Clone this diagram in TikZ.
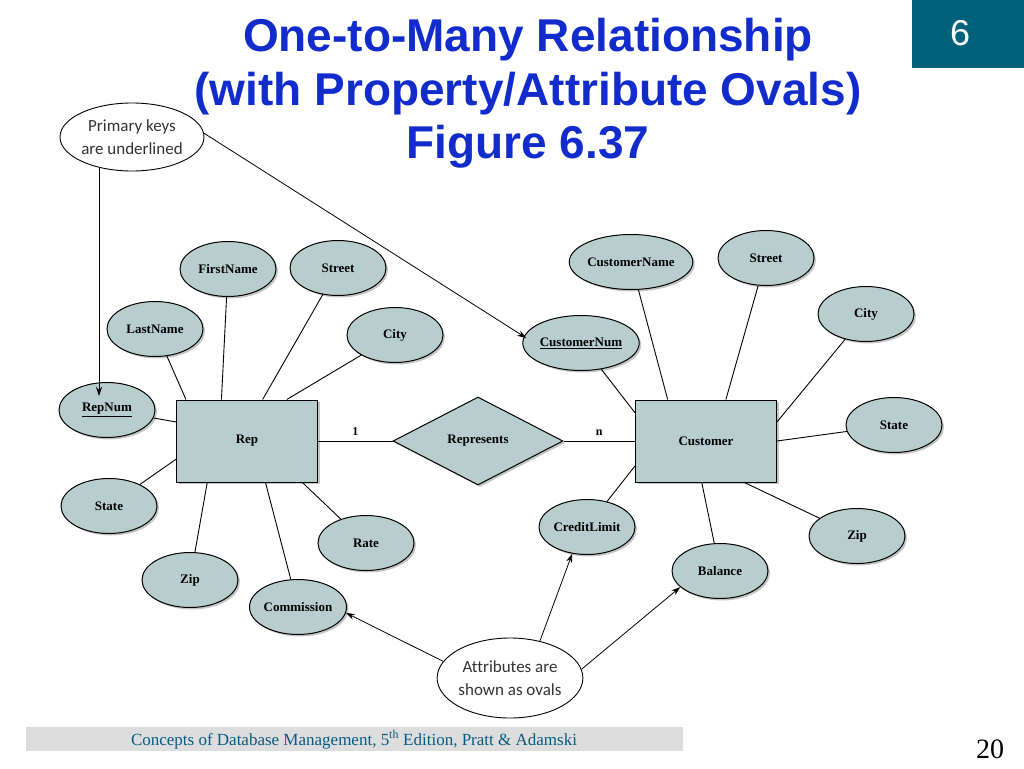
\documentclass[tikz,border=0pt]{standalone}
\usepackage{fontspec}
\setmainfont{Liberation Serif}
\newfontfamily\headfont{Liberation Sans}
\newfontfamily\notefont[Ligatures=NoCommon]{Carlito}
\usetikzlibrary{shapes.geometric,shadows,arrows.meta,calc}
\definecolor{erfill}{RGB}{184,206,206}
\definecolor{titleblue}{RGB}{18,44,204}
\definecolor{slideteal}{RGB}{0,98,122}
\definecolor{footgray}{RGB}{221,221,221}
\definecolor{footblue}{RGB}{10,90,128}

\begin{document}
\begin{tikzpicture}[x=1pt,y=-1pt,
    attr/.style={ellipse,draw,fill=erfill,line width=1pt,minimum width=96pt,minimum height=55pt,inner sep=0pt,
      font=\bfseries\fontsize{13}{15}\selectfont,drop shadow={shadow xshift=2pt,shadow yshift=-2pt,fill=black!45}},
    entity/.style={rectangle,draw,fill=erfill,line width=1pt,minimum width=141pt,minimum height=82pt,
      font=\bfseries\fontsize{13}{15}\selectfont,drop shadow={shadow xshift=2pt,shadow yshift=-2pt,fill=black!45}},
    relation/.style={diamond,draw,fill=erfill,line width=1pt,minimum width=170pt,minimum height=88pt,aspect=1.9,
      inner sep=0pt,font=\bfseries\fontsize{13}{15}\selectfont,drop shadow={shadow xshift=2pt,shadow yshift=-2pt,fill=black!45}},
    note/.style={ellipse,draw,fill=white,line width=0.9pt,inner sep=0pt,align=center,text=black!80,
      font=\notefont\fontsize{17}{23}\selectfont},
    link/.style={line width=0.9pt},
    pointer/.style={line width=0.8pt,-{Stealth[length=9pt,width=6pt]}}]
    \useasboundingbox (0,0) rectangle (1024,768);

    % slide header
    \fill[slideteal] (912,0) rectangle (1024,68);
    \node[text=white,font=\headfont\fontsize{36}{40}\selectfont] (slideno) at (960,33) {6};
    \node[anchor=base,text=titleblue,font=\headfont\bfseries\fontsize{46}{53}\selectfont] (title1) at (528,52) {One-to-Many Relationship};
    \node[anchor=base,text=titleblue,font=\headfont\bfseries\fontsize{46}{53}\selectfont] (title2) at (528,105) {(with Property/Attribute Ovals)};
    \node[anchor=base,text=titleblue,font=\headfont\bfseries\fontsize{46}{53}\selectfont] (title3) at (528,158) {Figure 6.37};

    % entities and relationship
    \node[entity] (rep) at (247,441) {Rep};
    \node[relation] (represents) at (478,441) {Represents};
    \node[entity] (customer) at (706,441) {Customer};
    \draw[link] (rep) -- node[midway,above=2pt,font=\bfseries\fontsize{12}{14}\selectfont] (one) {1} (represents);
    \draw[link] (represents) -- node[midway,above=2pt,font=\bfseries\fontsize{12}{14}\selectfont] (many) {n} (customer);

    % Rep attributes
    \node[attr] (r-first) at (228,269) {FirstName};
    \node[attr] (r-street) at (338,268) {Street};
    \node[attr] (r-last) at (155,329) {LastName};
    \node[attr] (r-city) at (395,335) {City};
    \node[attr] (repnum) at (107,410) {\underline{RepNum}};
    \node[attr] (r-state) at (109,506) {State};
    \node[attr] (r-zip) at (190,580) {Zip};
    \node[attr] (commission) at (298,607) {Commission};
    \node[attr] (r-rate) at (366,543) {Rate};
    \draw[link] (r-first) -- ($(rep.north west)!0.32!(rep.north east)$);
    \draw[link] (r-street) -- ($(rep.north west)!0.61!(rep.north east)$);
    \draw[link] (r-city) -- ($(rep.north west)!0.78!(rep.north east)$);
    \draw[link] (r-last) -- ($(rep.north west)!0.07!(rep.north east)$);
    \draw[link] (repnum) -- ($(rep.north west)!0.27!(rep.south west)$);
    \draw[link] (r-state) -- ($(rep.north west)!0.72!(rep.south west)$);
    \draw[link] (r-zip) -- ($(rep.south west)!0.22!(rep.south east)$);
    \draw[link] (commission) -- ($(rep.south west)!0.63!(rep.south east)$);
    \draw[link] (r-rate) -- ($(rep.south west)!0.89!(rep.south east)$);

    % Customer attributes
    \node[attr] (c-name) at (631,262) {CustomerName};
    \node[attr] (c-street) at (766,258) {Street};
    \node[attr] (c-city) at (866,314) {City};
    \node[attr] (customernum) at (581,343) {\underline{CustomerNum}};
    \node[attr] (c-state) at (894,425) {State};
    \node[attr] (c-zip) at (857,536) {Zip};
    \node[attr] (balance) at (720,571) {Balance};
    \node[attr] (creditlimit) at (587,527) {CreditLimit};
    \draw[link] (c-name) -- ($(customer.north west)!0.23!(customer.north east)$);
    \draw[link] (c-street) -- ($(customer.north west)!0.64!(customer.north east)$);
    \draw[link] (c-city) -- ($(customer.north east)!0.27!(customer.south east)$);
    \draw[link] (customernum) -- ($(customer.north west)!0.16!(customer.south west)$);
    \draw[link] (c-state) -- (customer.east);
    \draw[link] (c-zip) -- ($(customer.south west)!0.77!(customer.south east)$);
    \draw[link] (balance) -- ($(customer.south west)!0.47!(customer.south east)$);
    \draw[link] (creditlimit) -- ($(customer.north west)!0.80!(customer.south west)$);

    % callouts
    \node[note,minimum width=144pt,minimum height=68pt] (primary) at (132,137) {Primary keys\\are underlined};
    \node[note,minimum width=144pt,minimum height=80pt] (ovals) at (510,678) {Attributes are\\shown as ovals};
    \coordinate (reptip) at ($(repnum.north)+(-8,14)$);
    \coordinate (custip) at ($(customernum.west)+(4,-5)$);
    \draw[pointer] (primary.224 -| reptip) -- (reptip);
    \draw[pointer] (primary.3) -- (custip);
    \draw[pointer] (ovals.166) -- (commission.353);
    \draw[pointer] (ovals.51) -- (creditlimit.241);
    \draw[pointer] (ovals.7) -- (balance.202);

    % footer
    \fill[footgray] (26,727) rectangle (683,751);
    \node[anchor=base,text=footblue,font=\fontsize{17}{19}\selectfont] (source) at (354,745) {Concepts of Database Management, 5\textsuperscript{th} Edition, Pratt \& Adamski};
    \node[anchor=base,font=\fontsize{28}{30}\selectfont] (pageno) at (990,758) {20};
\end{tikzpicture}
\end{document}
